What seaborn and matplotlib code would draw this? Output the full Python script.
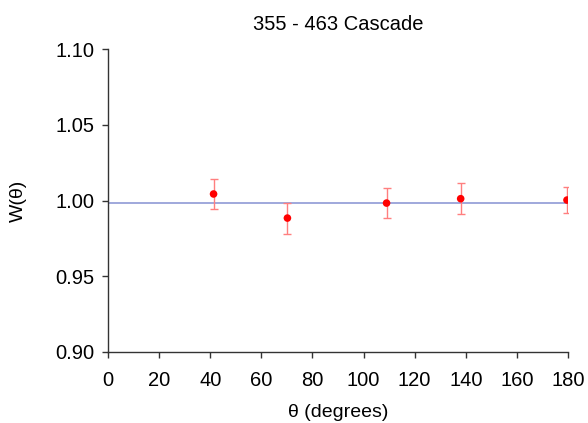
import matplotlib
matplotlib.use("Agg")
import matplotlib.pyplot as plt
import seaborn as sns
import pandas as pd

# angular correlation data
theta = [41.3, 70.2, 109.0, 138.0, 179.6]
w_theta = [1.0043, 0.9884, 0.9983, 1.0012, 1.0003]
w_err = [0.0099, 0.0102, 0.0097, 0.0102, 0.0083]

# fitted constant line
fit_x = [0, 180]
fit_y = [0.9983, 0.9983]

df = pd.DataFrame({"theta": theta, "w": w_theta, "err": w_err})
fit = pd.DataFrame({"theta": fit_x, "w": fit_y})

sns.set_theme(style="ticks")
plt.rcParams["font.family"] = ["Liberation Sans", "DejaVu Sans"]
plt.rcParams["text.color"] = "black"
plt.rcParams["axes.labelcolor"] = "black"

fig = plt.figure(figsize=(5.88, 4.23), dpi=100)
ax = fig.add_axes([0.1837, 0.168, 0.7823, 0.716])

sns.lineplot(data=fit, x="theta", y="w", color="#8f9ad6", linewidth=1.2, ax=ax)
ax.errorbar(df["theta"], df["w"], yerr=df["err"], fmt="none",
            ecolor="#ff7f7f", elinewidth=1, capsize=3, capthick=1, zorder=3)
sns.scatterplot(data=df, x="theta", y="w", color="#ff0000", s=30,
                edgecolor="none", zorder=4, ax=ax)

ax.set_xlim(0, 180)
ax.set_ylim(0.90, 1.10)
ax.set_xticks(range(0, 181, 20))
ax.set_yticks([0.90, 0.95, 1.00, 1.05, 1.10])
ax.set_yticklabels(["0.90", "0.95", "1.00", "1.05", "1.10"])

for s in ["top", "right"]:
    ax.spines[s].set_visible(False)
for s in ["left", "bottom"]:
    ax.spines[s].set_color("#333333")
    ax.spines[s].set_linewidth(1)

ax.tick_params(axis="both", labelsize=14.5, length=4, width=1,
               color="#333333", labelcolor="black", pad=6)
ax.tick_params(axis="x", pad=10)

ax.set_xlabel("θ (degrees)", fontsize=14, labelpad=10, color="black")
ax.set_ylabel("W(θ)", fontsize=14, labelpad=20, color="black")
ax.set_title("355 - 463 Cascade", fontsize=14.5, pad=14, color="black")

fig.savefig("out.png", dpi=100)
